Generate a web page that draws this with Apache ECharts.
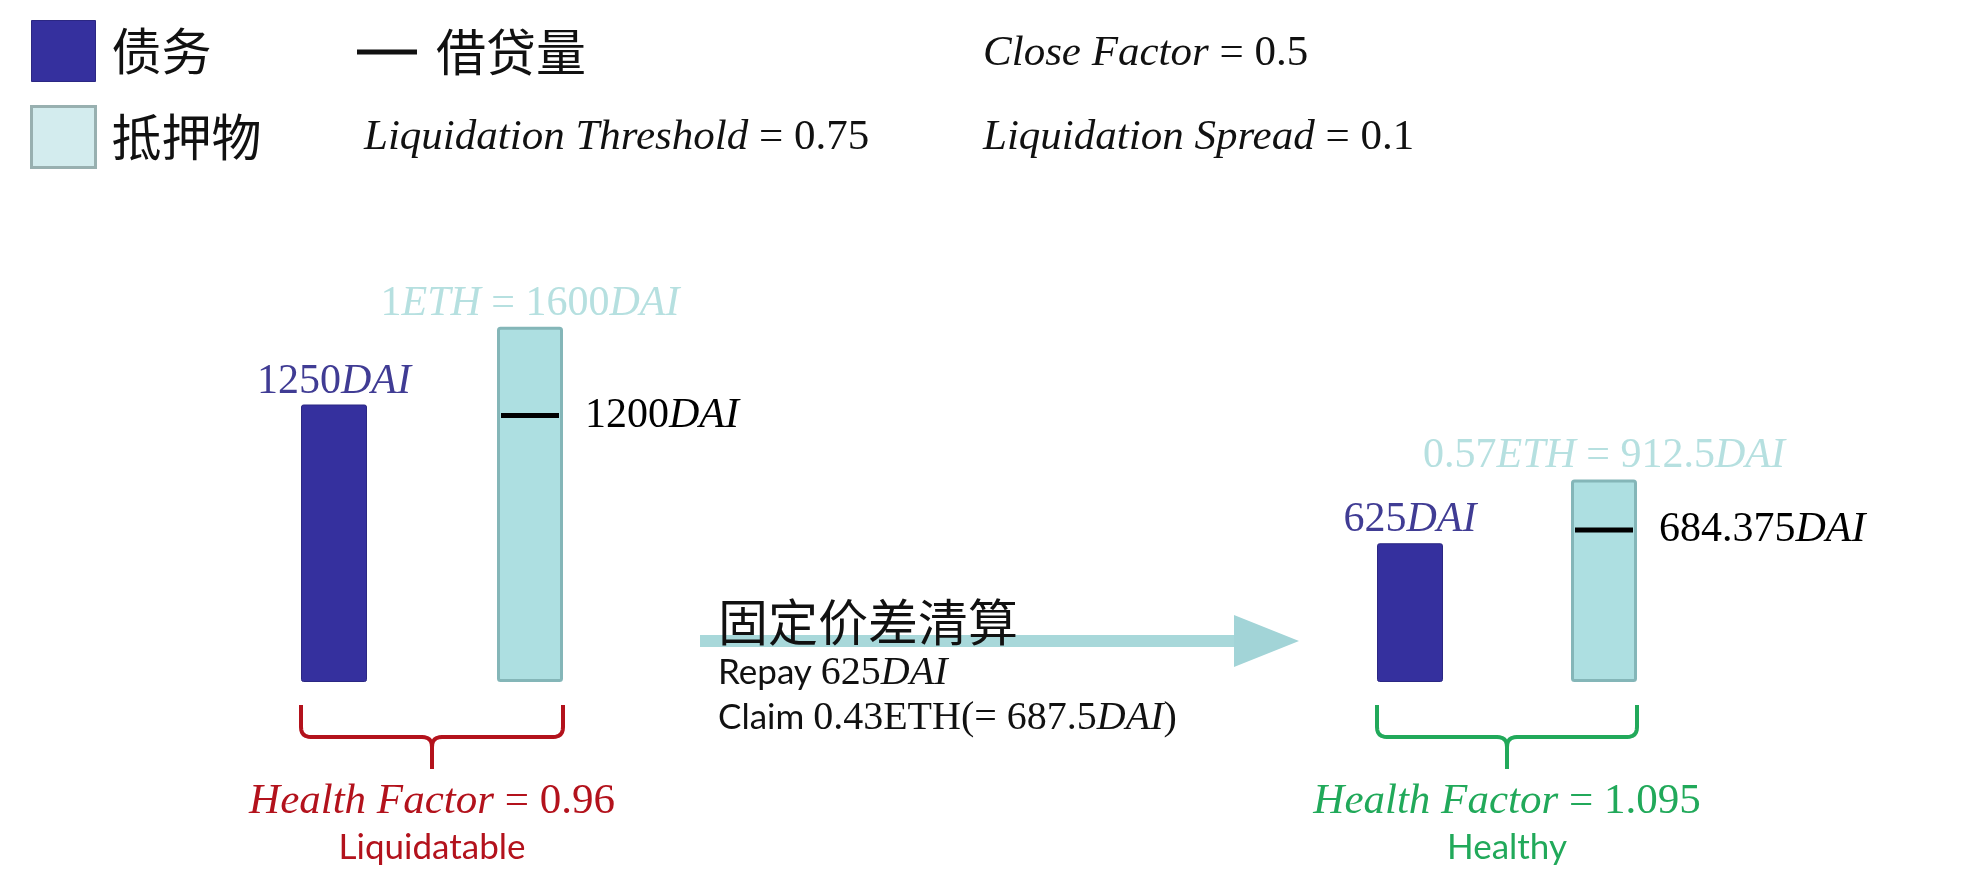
<!DOCTYPE html>
<html>
<head>
<meta charset="utf-8">
<script src="https://cdn.jsdelivr.net/npm/echarts@6/dist/echarts.min.js"></script>
<style>
  html, body { margin: 0; padding: 0; background: #fff; }
  #main { width: 1964px; height: 886px; }
</style>
</head>
<body>
<div id="main"></div>
<script>
// before / after fixed-spread liquidation
const stages = ['清算前', '清算后']
const categories = ['债务', '抵押物']
const debtValues = [1250, 625]
const collateralValues = [1600, 912.5]
const collateralEth = ['1', '0.57']
const borrowValues = [1200, 684.375]
const healthFactors = [0.96, 1.095]
const statusLabels = ['Liquidatable', 'Healthy']

const serif = "'Liberation Serif', 'Times New Roman', serif"
const sans = "Lato, 'Open Sans', sans-serif"
const cjk = "'Noto Sans CJK SC', sans-serif"

const debtColor = '#35309e'
const collColor = '#addfe1'
const statusColors = ['#b3121c', '#21a95a']
const barW = 66

// rich styles for series labels (color) and graphic text (fill)
function labelRich(size, color) {
  return {
    n: { fontFamily: serif, fontSize: size, color },
    i: { fontFamily: serif, fontStyle: 'italic', fontSize: size, color }
  }
}
function textRich(size, color) {
  return {
    n: { fontFamily: serif, fontSize: size, fill: color },
    i: { fontFamily: serif, fontStyle: 'italic', fontSize: size, fill: color },
    s: { fontFamily: sans, fontSize: 35, fill: color }
  }
}

const chart = echarts.init(document.getElementById('main'))

const grids = [
  { left: 236, width: 392, top: 238, bottom: 204 },
  { left: 1313, width: 388, top: 238, bottom: 204 }
]

const series = []
stages.forEach((stage, i) => {
  series.push({
    name: categories[0],
    type: 'bar',
    xAxisIndex: i,
    yAxisIndex: i,
    barWidth: barW,
    barGap: '-100%',
    data: [debtValues[i], '-'],
    itemStyle: { color: debtColor, borderColor: '#2b2783', borderWidth: 1, borderRadius: 2 },
    label: {
      show: true,
      position: 'top',
      distance: 2,
      formatter: (p) => `{n|${p.value}}{i|DAI}`,
      rich: labelRich(42, '#403c94')
    }
  })
  series.push({
    name: categories[1],
    type: 'bar',
    xAxisIndex: i,
    yAxisIndex: i,
    barWidth: barW,
    barGap: '-100%',
    data: ['-', collateralValues[i]],
    itemStyle: { color: collColor, borderColor: '#84b6b8', borderWidth: 3, borderRadius: 2 },
    label: {
      show: true,
      position: 'top',
      distance: 2,
      formatter: (p) => `{n|${collateralEth[i]}}{i|ETH}{n| = ${p.value}}{i|DAI}`,
      rich: labelRich(42, '#b6e0e0')
    }
  })
  series.push({
    name: '借贷量',
    type: 'scatter',
    xAxisIndex: i,
    yAxisIndex: i,
    z: 5,
    symbol: 'rect',
    symbolSize: [58, 5],
    data: [[categories[1], borrowValues[i]]],
    itemStyle: { color: '#000', opacity: 1 },
    label: {
      show: true,
      position: 'right',
      distance: 26,
      formatter: (p) => `{n|${p.value[1]}}{i|DAI}`,
      rich: labelRich(42, '#000')
    }
  })
})

chart.setOption({
  animation: false,
  backgroundColor: '#fff',
  grid: grids,
  xAxis: grids.map((g, i) => ({ type: 'category', gridIndex: i, data: categories, show: false })),
  yAxis: grids.map((g, i) => ({ type: 'value', gridIndex: i, min: 0, max: 2000, show: false })),
  legend: [
    {
      left: 30,
      top: 20,
      padding: 0,
      orient: 'vertical',
      selectedMode: false,
      itemWidth: 64,
      itemHeight: 61,
      itemGap: 23,
      icon: 'rect',
      textStyle: { fontFamily: cjk, fontSize: 50, color: '#111', padding: [0, 0, 0, 11] },
      data: [
        { name: '债务', itemStyle: { color: debtColor, borderColor: '#2b2783', borderWidth: 1 } },
        { name: '抵押物', itemStyle: { color: '#d3ecee', borderColor: '#98b0b0', borderWidth: 3 } }
      ]
    },
    {
      left: 357,
      top: 27,
      padding: 0,
      selectedMode: false,
      itemWidth: 60,
      itemHeight: 5,
      icon: 'rect',
      textStyle: { fontFamily: cjk, fontSize: 50, color: '#111', padding: [0, 0, 0, 14] },
      data: [{ name: '借贷量', itemStyle: { color: '#111', opacity: 1 } }]
    }
  ],
  series: series
})

// quadratic corner sampled into polyline points
function corner(p0, c, p2) {
  const pts = []
  for (let k = 0; k <= 6; k++) {
    const t = k / 6
    const a = (1 - t) * (1 - t), b = 2 * (1 - t) * t, d = t * t
    pts.push([a * p0[0] + b * c[0] + d * p2[0], a * p0[1] + b * c[1] + d * p2[1]])
  }
  return pts
}

// decorations: parameters, arrow, brackets and health factors
const graphic = [
  { type: 'text', x: 983, y: 54, style: { text: '{i|Close Factor }{n|= 0.5}', rich: textRich(43, '#111'), verticalAlign: 'middle' } },
  { type: 'text', x: 364, y: 138, style: { text: '{i|Liquidation Threshold }{n|= 0.75}', rich: textRich(43, '#111'), verticalAlign: 'middle' } },
  { type: 'text', x: 983, y: 138, style: { text: '{i|Liquidation Spread }{n|= 0.1}', rich: textRich(43, '#111'), verticalAlign: 'middle' } },
  { type: 'rect', z: 1, shape: { x: 700, y: 635, width: 536, height: 12 }, style: { fill: '#a8d8da' } },
  { type: 'polygon', z: 1, shape: { points: [[1234, 615], [1299, 641], [1234, 667]] }, style: { fill: '#a2d4d7' } },
  { type: 'text', z: 3, x: 718, y: 622, style: { text: '固定价差清算', font: '50px ' + cjk, fill: '#111', verticalAlign: 'middle' } },
  { type: 'text', x: 718, y: 673, style: { text: `{s|Repay }{n|${debtValues[0] - debtValues[1]}}{i|DAI}`, rich: textRich(40, '#111'), verticalAlign: 'middle' } },
  { type: 'text', x: 718, y: 718, style: { text: `{s|Claim }{n|0.43ETH(= ${collateralValues[0] - collateralValues[1]}}{i|DAI}{n|)}`, rich: textRich(40, '#111'), verticalAlign: 'middle' } }
]

stages.forEach((stage, i) => {
  const [xd, yBase] = chart.convertToPixel({ gridIndex: i }, [0, 0])
  const [xc] = chart.convertToPixel({ gridIndex: i }, [1, 0])
  const xl = xd - barW / 2
  const xr = xc + barW / 2
  const xm = (xl + xr) / 2
  const y0 = yBase + 23
  const y1 = y0 + 32
  const y2 = y1 + 32
  const r = 10
  const leftHalf = [[xl, y0]]
    .concat(corner([xl, y1 - r], [xl, y1], [xl + r, y1]))
    .concat(corner([xm - r, y1], [xm, y1], [xm, y1 + r]))
    .concat([[xm, y2]])
  const rightHalf = [[xr, y0]]
    .concat(corner([xr, y1 - r], [xr, y1], [xr - r, y1]))
    .concat(corner([xm + r, y1], [xm, y1], [xm, y1 + r]))
    .concat([[xm, y2]])
  ;[leftHalf, rightHalf].forEach((pts) => {
    graphic.push({
      type: 'polyline',
      shape: { points: pts },
      style: { fill: null, stroke: statusColors[i], lineWidth: 4, lineJoin: 'round' }
    })
  })
  graphic.push({
    type: 'text', x: xm, y: 802,
    style: { text: `{i|Health Factor }{n|= ${healthFactors[i]}}`, rich: textRich(43, statusColors[i]), align: 'center', verticalAlign: 'middle' }
  })
  graphic.push({
    type: 'text', x: xm, y: 848,
    style: { text: statusLabels[i], font: '35px ' + sans, fill: statusColors[i], align: 'center', verticalAlign: 'middle' }
  })
})

chart.setOption({ graphic: graphic })

window.onresize = () => {
  chart.resize()
}
</script>
</body>
</html>
